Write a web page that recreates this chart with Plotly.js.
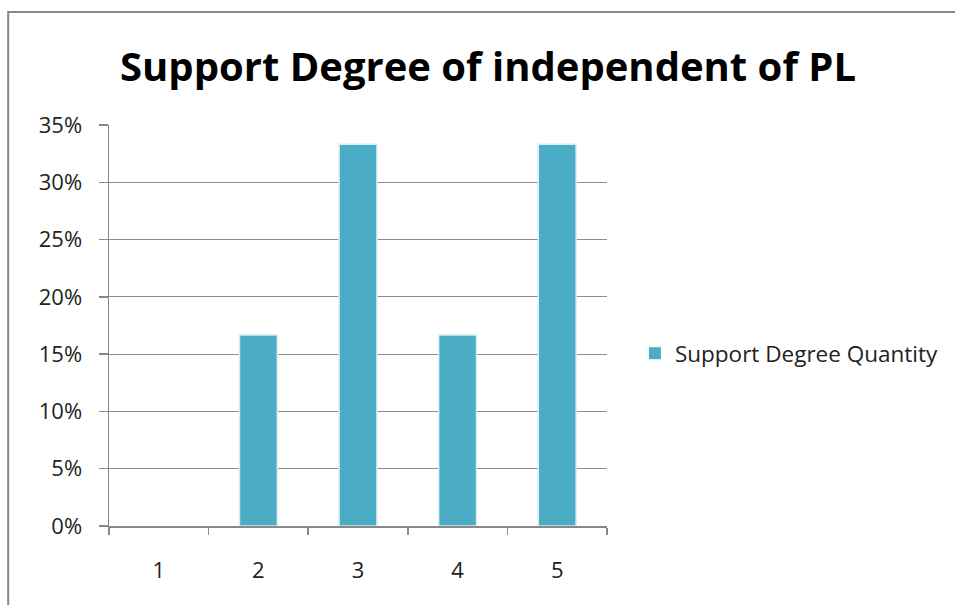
<!DOCTYPE html>
<html>
<head>
<meta charset="utf-8">
<script src="https://cdn.plot.ly/plotly-3.0.1.min.js"></script>
<style>
html,body{margin:0;padding:0;background:#fff;}
#chart{width:955px;height:605px;}
</style>
</head>
<body>
<div id="chart"></div>
<script>
const categories = ['1', '2', '3', '4', '5'];
const supportValues = [0, 0.1667, 0.3333, 0.1667, 0.3333];
const seriesName = 'Support Degree Quantity';
const chartTitle = 'Support Degree of independent of PL';

const font = '"Open Sans", Lato, sans-serif';

const trace = {
  type: 'bar',
  x: categories,
  y: supportValues,
  name: seriesName,
  marker: {color: '#4BACC6', line: {color: '#d6eef4', width: supportValues.map(v => v > 0 ? 1.5 : 0)}},
  hoverinfo: 'x+y'
};

const layout = {
  width: 955,
  height: 605,
  margin: {l: 109, r: 347, t: 125, b: 79},
  paper_bgcolor: '#ffffff',
  plot_bgcolor: '#ffffff',
  font: {family: font, color: '#222', size: 22},
  title: {
    text: '<b>' + chartTitle + '</b>',
    font: {family: font, size: 40, color: '#000'},
    x: 0.511, xanchor: 'center',
    y: 0.889, yanchor: 'middle'
  },
  bargap: 0.62,
  showlegend: true,
  legend: {
    x: 1.054, xanchor: 'left',
    y: 0.43, yanchor: 'middle',
    font: {family: font, size: 22.5, color: '#222'},
    itemwidth: 30
  },
  xaxis: {
    type: 'category',
    categoryorder: 'array',
    categoryarray: categories,
    showline: true, linecolor: '#888', linewidth: 1.5,
    ticks: 'outside', tickson: 'boundaries', ticklen: 7, tickcolor: '#888', tickwidth: 1.5,
    showgrid: false,
    tickfont: {family: font, size: 22, color: '#222'},
    ticklabelstandoff: 24
  },
  yaxis: {
    range: [0, 0.35],
    dtick: 0.05,
    tickformat: '.0%',
    showline: true, linecolor: '#888', linewidth: 1.5,
    ticks: 'outside', ticklen: 9, tickcolor: '#888', tickwidth: 1.5,
    showgrid: true, gridcolor: '#8c8c8c', gridwidth: 1.2,
    zeroline: false,
    tickfont: {family: font, size: 22, color: '#222'},
    ticklabelstandoff: 12
  },
  shapes: [{
    type: 'rect', xref: 'paper', yref: 'paper',
    x0: -0.2024, x1: 1.72, y0: -0.25, y1: 1.2818,
    line: {color: '#888', width: 2}, fillcolor: 'rgba(0,0,0,0)', layer: 'below'
  }]
};

Plotly.newPlot('chart', [trace], layout, {displayModeBar: false, staticPlot: true});
</script>
</body>
</html>
